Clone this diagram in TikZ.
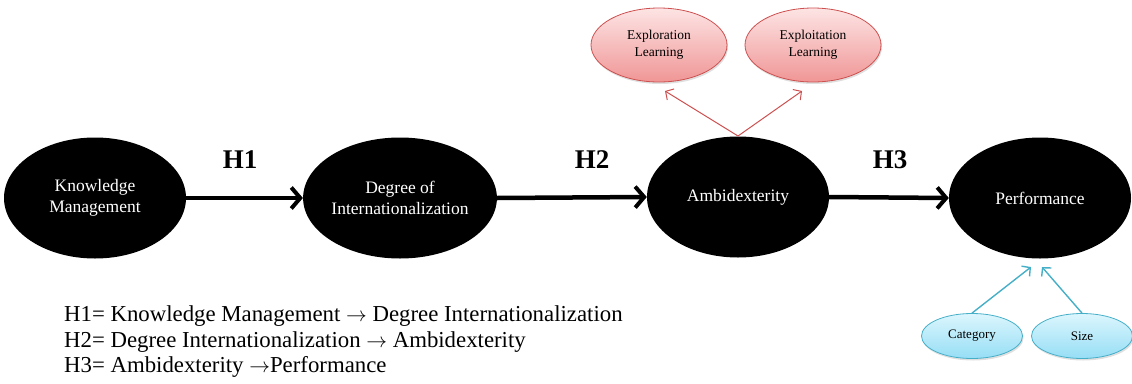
\documentclass[tikz,border=0pt]{standalone}
\usepackage{fontspec}
\setmainfont{Liberation Serif}
\usetikzlibrary{shapes.geometric,arrows.meta,shadows}
\definecolor{redline}{RGB}{205,80,80}
\definecolor{pinkA}{RGB}{253,228,228}
\definecolor{pinkB}{RGB}{240,150,150}
\definecolor{cyanline}{RGB}{70,175,200}
\definecolor{cyanA}{RGB}{220,246,253}
\definecolor{cyanB}{RGB}{150,222,245}
\tikzset{
  bignode/.style={ellipse, fill=black, text=white, inner sep=0pt,
    minimum width=182pt, minimum height=121pt, align=center,
    font=\fontsize{17.5}{21}\selectfont},
  rednode/.style={ellipse, draw=redline, line width=0.8pt, top color=pinkA, bottom color=pinkB,
    inner sep=0pt, minimum width=136pt, minimum height=74pt, align=center,
    font=\fontsize{13.5}{17}\selectfont,
    drop shadow={opacity=0.25, shadow xshift=1pt, shadow yshift=-2pt}},
  cyannode/.style={ellipse, draw=cyanline, line width=0.8pt, top color=cyanA, bottom color=cyanB,
    inner sep=0pt, minimum width=101pt, minimum height=45pt, align=center,
    font=\fontsize{13}{16}\selectfont,
    drop shadow={opacity=0.25, shadow xshift=1pt, shadow yshift=-2pt}},
  mainarrow/.style={line width=4.5pt, -{Straight Barb[length=9pt, width=21pt, line width=4pt]}},
  redarrow/.style={draw=redline, line width=1pt, -{Straight Barb[length=6pt, width=13pt]}},
  cyanarrow/.style={draw=cyanline, line width=1.4pt, -{Straight Barb[length=6pt, width=13pt]}},
  hlabel/.style={font=\bfseries\fontsize{27}{30}\selectfont},
  listtext/.style={anchor=west, align=left, font=\fontsize{22.8}{25.5}\selectfont, inner sep=0pt}
}
\newcommand{\rarr}{$\rightarrow$}
\begin{document}
\begin{tikzpicture}[x=1pt, y=-1pt]
\useasboundingbox (0,0) rectangle (1132,383);
\node[bignode] (km) at (95,198) {Knowledge\\Management};
\node[bignode] (di) at (400,198) {Degree of\\Internationalization};
\node[bignode] (am) at (738,197) {Ambidexterity};
\node[bignode] (pf) at (1040,198) {Performance};

\node[rednode] (ern) at (659,45) {Exploration\\Learning};
\node[rednode] (eit) at (813,45) {Exploitation\\Learning};

\node[cyannode] (cat) at (972,336) {Category};
\node[cyannode] (siz) at (1082,336) {Size};

\draw[mainarrow] (km.east) -- (di.west);
\draw[mainarrow] (di.east) -- (am.west);
\draw[mainarrow] (am.east) -- (pf.west);

\node[hlabel] (h1) at (240,160) {H1};
\node[hlabel] (h2) at (592,160) {H2};
\node[hlabel] (h3) at (890,160) {H3};

\coordinate (amtop) at (738,136);
\draw[redarrow] (amtop) -- (665,91);
\draw[redarrow] (amtop) -- (802,91);

\coordinate (pfbl) at (1031,267);
\coordinate (pfbr) at (1042,267);
\draw[cyanarrow] (cat.north) -- (pfbl);
\draw[cyanarrow] (siz.north) -- (pfbr);

\node[listtext] (hyp) at (64,342) {H1= Knowledge Management \rarr{} Degree Internationalization\\
H2= Degree Internationalization \rarr{} Ambidexterity\\
H3= Ambidexterity \rarr{}Performance};
\end{tikzpicture}
\end{document}
